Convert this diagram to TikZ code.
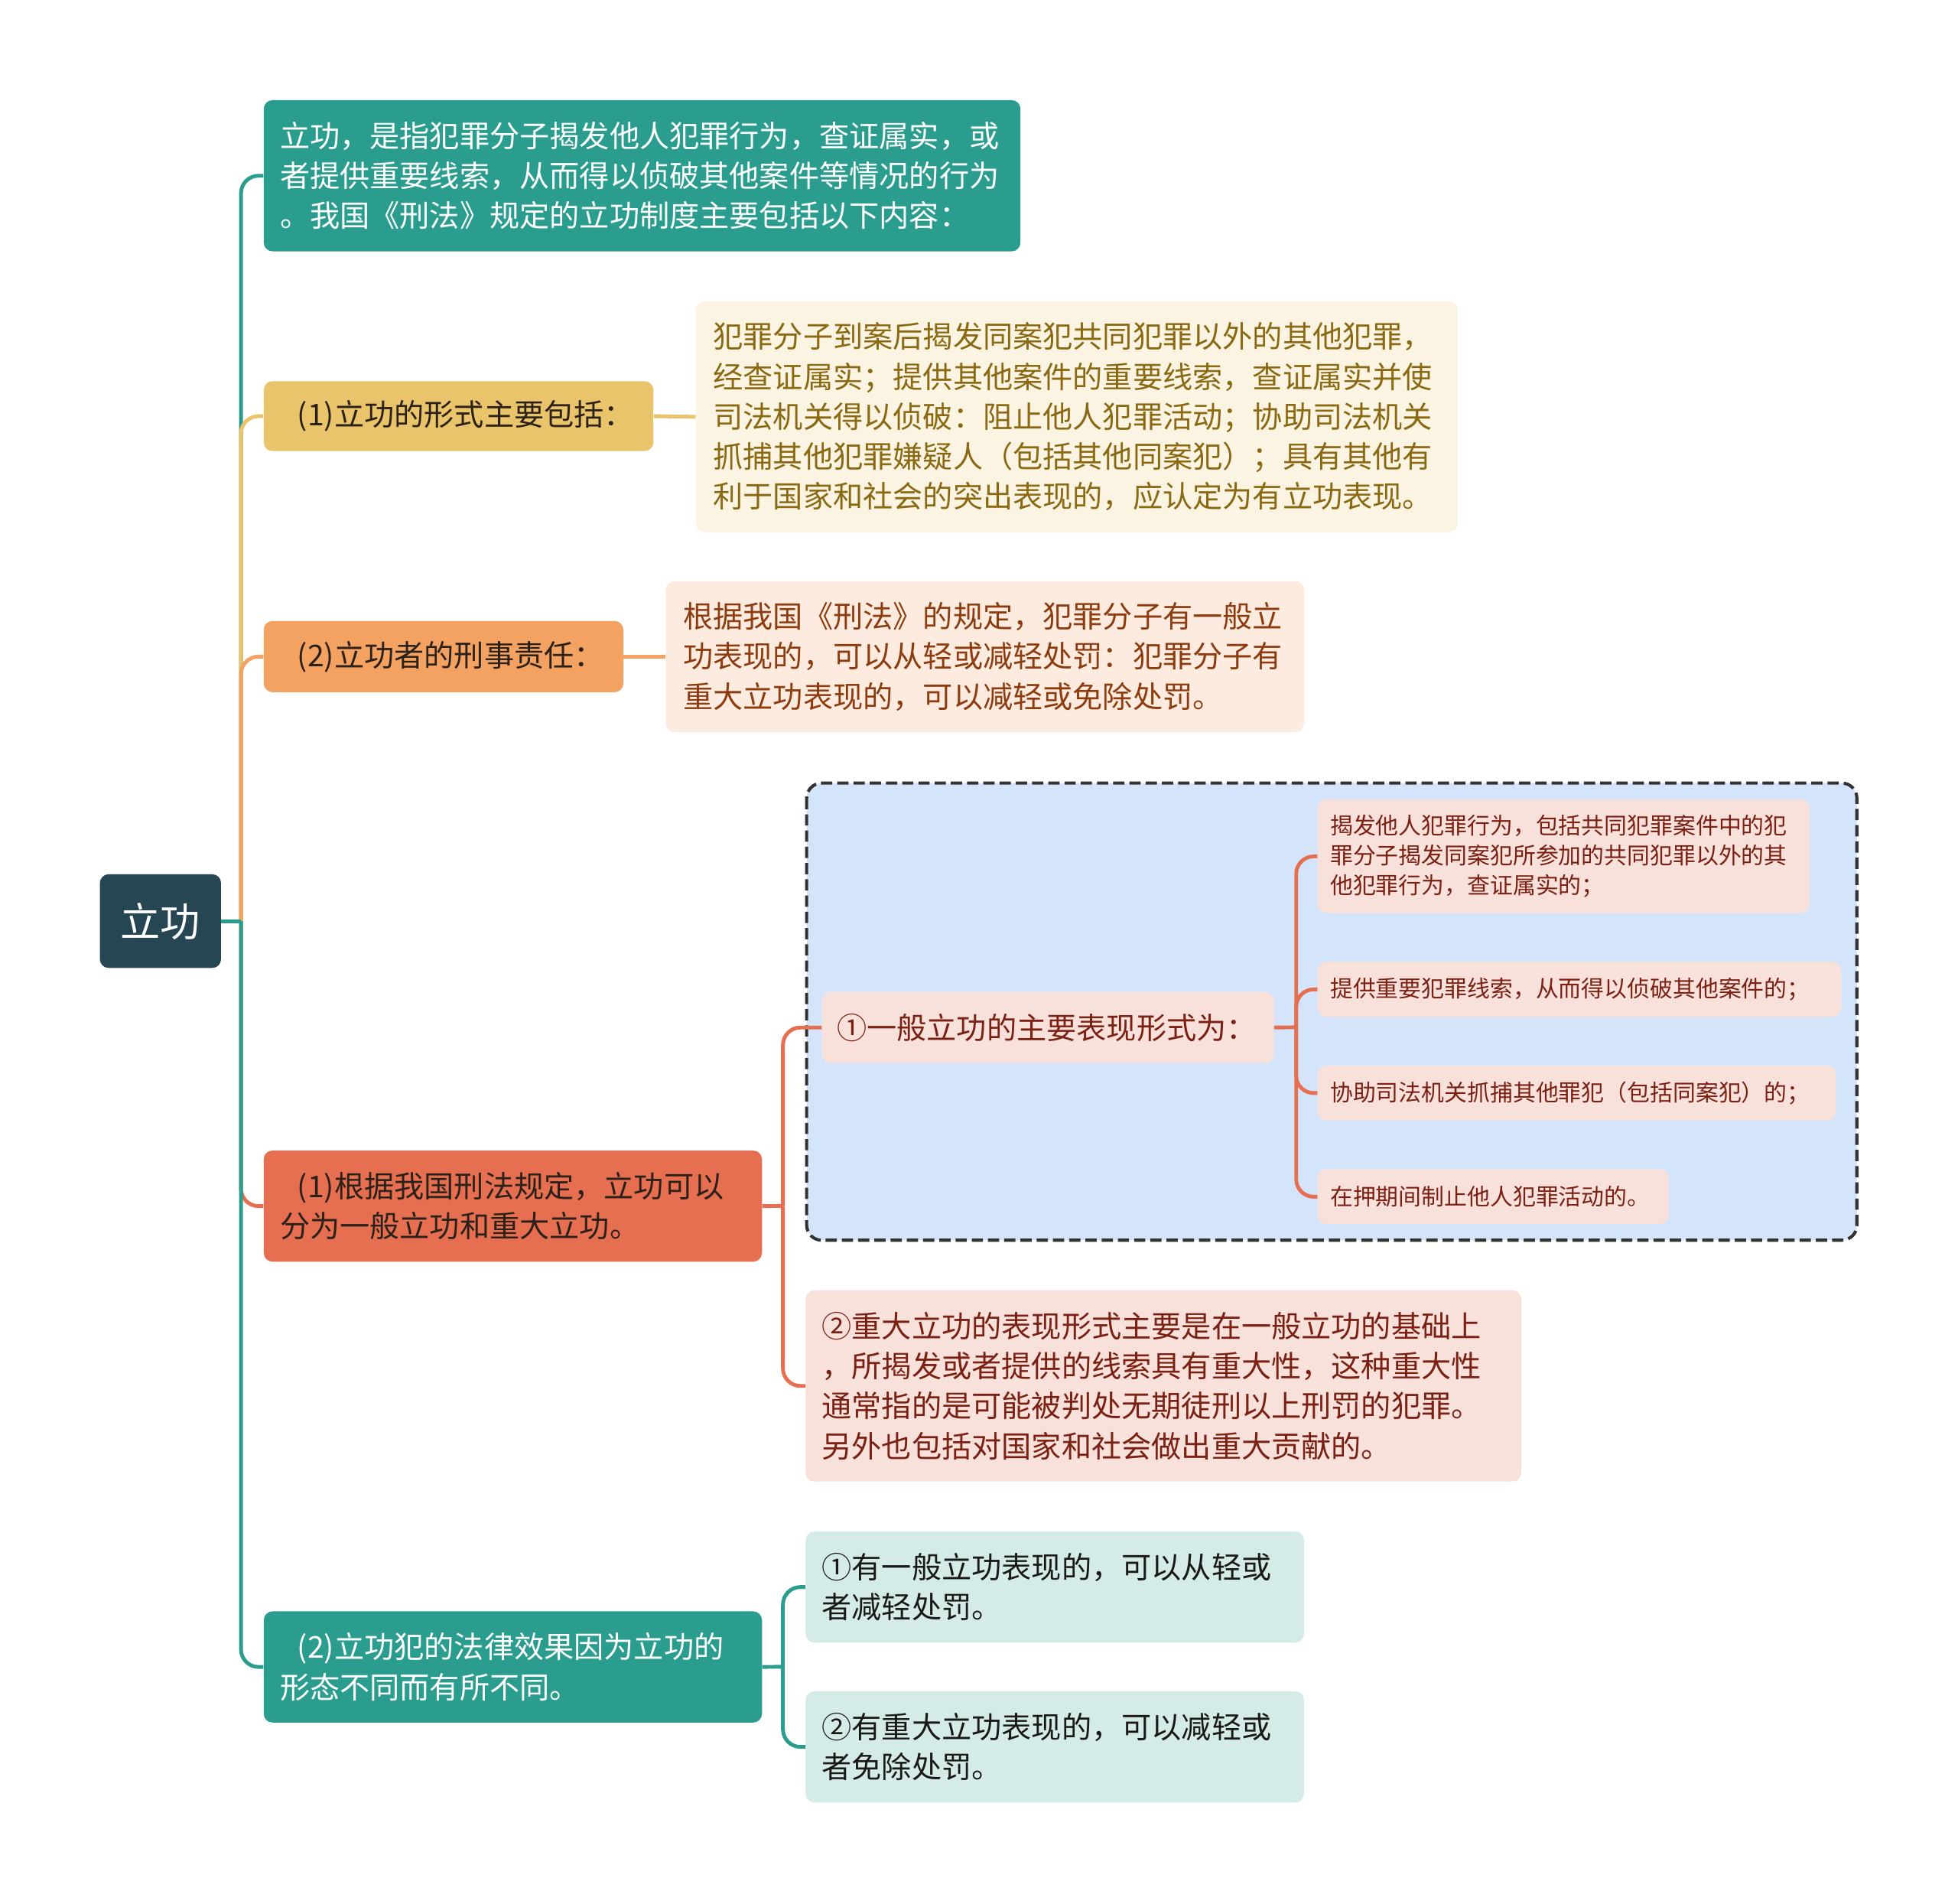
\documentclass[tikz,border=0pt]{standalone}
\usepackage{fontspec}
\setmainfont{Noto Sans CJK SC}
\definecolor{croot}{HTML}{264653}
\definecolor{cteal}{HTML}{2A9D8F}
\definecolor{cyel}{HTML}{E9C46A}
\definecolor{cora}{HTML}{F4A261}
\definecolor{cred}{HTML}{E76F51}
\definecolor{fyel}{HTML}{FBF4E2}
\definecolor{tyel}{HTML}{8A6912}
\definecolor{fora}{HTML}{FDEBDF}
\definecolor{tora}{HTML}{8D3C10}
\definecolor{fred}{HTML}{F8E1DB}
\definecolor{tred}{HTML}{7B2114}
\definecolor{fblue}{HTML}{D4E4FB}
\definecolor{fteal}{HTML}{D5EBE7}
\definecolor{dark}{HTML}{2B2118}
\tikzset{
  box/.style={anchor=north west, rounded corners=7pt, inner ysep=0pt, inner xsep=13pt,
    align=left, font=\fontsize{24pt}{32pt}\selectfont},
  smallbox/.style={box, inner xsep=10pt, font=\fontsize{18.3pt}{24pt}\selectfont},
  conn/.style={line width=3pt, rounded corners=14pt}
}
\begin{document}
\begin{tikzpicture}[x=1pt,y=-1pt]
\useasboundingbox (0,0) rectangle (1568,1524);
\fill[white] (0,0) rectangle (1568,1524);

% root
\node[fill=croot, text=white, rounded corners=7pt, minimum width=97pt, minimum height=75pt,
  inner sep=0pt, font=\fontsize{32pt}{36pt}\selectfont] (root) at (128.5,737.5) {立功};

% level 1
\node[box, fill=cteal, text=white, text width=580pt, minimum height=121pt] (n1) at (211,80)
  {立功，是指犯罪分子揭发他人犯罪行为，查证属实，或\\者提供重要线索，从而得以侦破其他案件等情况的行为\\。我国《刑法》规定的立功制度主要包括以下内容：};
\node[box, fill=cyel, text=dark, text width=286pt, minimum height=56pt] (n2) at (211,305)
  {\hspace*{14pt}(1)立功的形式主要包括：};
\node[box, fill=cora, text=dark, text width=262pt, minimum height=57pt] (n3) at (211,497)
  {\hspace*{14pt}(2)立功者的刑事责任：};
\node[box, fill=cred, text=dark, text width=373pt, minimum height=89pt] (n4) at (211,921)
  {\hspace*{14pt}(1)根据我国刑法规定，立功可以\\分为一般立功和重大立功。};
\node[box, fill=cteal, text=white, text width=373pt, minimum height=89pt] (n5) at (211,1290)
  {\hspace*{14pt}(2)立功犯的法律效果因为立功的\\形态不同而有所不同。};

% details
\node[box, inner xsep=14pt, fill=fyel, text=tyel, text width=582pt, minimum height=185pt] (d2) at (557,241)
  {犯罪分子到案后揭发同案犯共同犯罪以外的其他犯罪，\\经查证属实；提供其他案件的重要线索，查证属实并使\\司法机关得以侦破：阻止他人犯罪活动；协助司法机关\\抓捕其他犯罪嫌疑人（包括其他同案犯）；具有其他有\\利于国家和社会的突出表现的，应认定为有立功表现。};
\node[box, inner xsep=14pt, fill=fora, text=tora, text width=483pt, minimum height=121pt] (d3) at (533,465)
  {根据我国《刑法》的规定，犯罪分子有一般立\\功表现的，可以从轻或减轻处罚：犯罪分子有\\重大立功表现的，可以减轻或免除处罚。};

% dashed group
\draw[fill=fblue, draw=black!80, line width=2.5pt, dash pattern=on 9pt off 4pt, rounded corners=12pt]
  (646,627) rectangle (1487,993);

\node[box, inner xsep=12pt, fill=fred, text=tred, text width=338pt, minimum height=57pt] (g1) at (658,794)
  {①一般立功的主要表现形式为：};
\node[box, fill=fred, text=tred, text width=547pt, minimum height=153pt] (g2) at (645,1033)
  {②重大立功的表现形式主要是在一般立功的基础上\\，所揭发或者提供的线索具有重大性，这种重大性\\通常指的是可能被判处无期徒刑以上刑罚的犯罪。\\另外也包括对国家和社会做出重大贡献的。};

\node[smallbox, fill=fred, text=tred, text width=374pt, minimum height=91pt] (k1) at (1055,640)
  {揭发他人犯罪行为，包括共同犯罪案件中的犯\\罪分子揭发同案犯所参加的共同犯罪以外的其\\他犯罪行为，查证属实的；};
\node[smallbox, fill=fred, text=tred, text width=399pt, minimum height=44pt] (k2) at (1055,770)
  {提供重要犯罪线索，从而得以侦破其他案件的；};
\node[smallbox, fill=fred, text=tred, text width=395pt, minimum height=44pt] (k3) at (1055,853)
  {协助司法机关抓捕其他罪犯（包括同案犯）的；};
\node[smallbox, fill=fred, text=tred, text width=261pt, minimum height=44pt] (k4) at (1055,936)
  {在押期间制止他人犯罪活动的。};

\node[box, fill=fteal, text=black!90, text width=373pt, minimum height=89pt] (t1) at (645,1226)
  {①有一般立功表现的，可以从轻或\\者减轻处罚。};
\node[box, fill=fteal, text=black!90, text width=373pt, minimum height=89pt] (t2) at (645,1354)
  {②有重大立功表现的，可以减轻或\\者免除处罚。};

% connectors
\coordinate (j0) at (193,737.5);
\coordinate (j4) at (627,965.5);
\coordinate (jg) at (1038,822.5);
\coordinate (j5) at (627,1334.5);

\draw[conn, cteal] (j0) |- (n1.west);
\draw[conn, cyel] (j0) |- (n2.west);
\draw[conn, cora] (j0) |- (n3.west);
\draw[conn, cred] (j0) |- (n4.west);
\draw[conn, cteal] (j0) |- (n5.west);
\draw[conn, cteal] (root.east) -- (j0);

\draw[conn, cyel] (n2.east) -- (d2.west);
\draw[conn, cora] (n3.east) -- (d3.west);

\draw[conn, cred] (n4.east) -- (j4);
\draw[conn, cred] (j4) |- (g1.west);
\draw[conn, cred] (j4) |- (g2.west);

\draw[conn, cred] (g1.east) -- (jg);
\draw[conn, cred] (jg) |- (k1.west);
\draw[conn, cred] (jg) |- (k2.west);
\draw[conn, cred] (jg) |- (k3.west);
\draw[conn, cred] (jg) |- (k4.west);

\draw[conn, cteal] (n5.east) -- (j5);
\draw[conn, cteal] (j5) |- (t1.west);
\draw[conn, cteal] (j5) |- (t2.west);
\end{tikzpicture}
\end{document}
